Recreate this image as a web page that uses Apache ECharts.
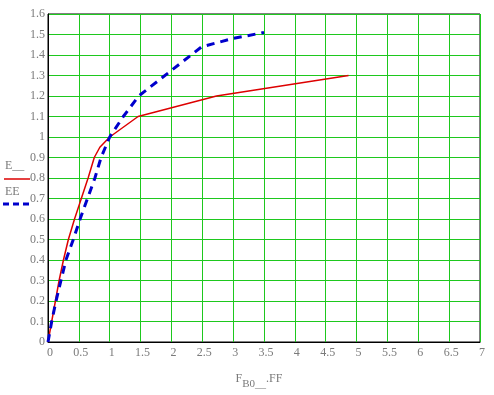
<!DOCTYPE html>
<html><head><meta charset="utf-8">
<script src="https://cdn.jsdelivr.net/npm/echarts@6/dist/echarts.min.js"></script>
<style>html,body{margin:0;padding:0;background:#fff}#c{width:494px;height:395px}</style>
</head><body><div id="c"></div>
<script>
const xTicks = [0,0.5,1,1.5,2,2.5,3,3.5,4,4.5,5,5.5,6,6.5,7];
const yTicks = [0,0.1,0.2,0.3,0.4,0.5,0.6,0.7,0.8,0.9,1,1.1,1.2,1.3,1.4,1.5,1.6];
const seriesNames = ['E__','EE'];
const redX = [0,0.06,0.12,0.18,0.25,0.33,0.43,0.54,0.65,0.75,0.84,1.0,1.46,2.73,4.87];
const redY = [0,0.1,0.2,0.3,0.4,0.5,0.6,0.7,0.8,0.9,0.95,1.0,1.1,1.2,1.3];
const blueX = [0,0.06,0.13,0.21,0.29,0.41,0.52,0.64,0.76,0.86,1.0,1.22,1.47,1.98,2.49,2.99,3.5];
const blueY = [0,0.1,0.2,0.3,0.4,0.5,0.6,0.7,0.8,0.9,1.0,1.1,1.2,1.32,1.44,1.48,1.51];

const font = 'Liberation Serif';
const lblColor = '#7a7a7a';
const chart = echarts.init(document.getElementById('c'));
chart.setOption({
  animation:false,
  grid:{left:48,right:14,top:14,bottom:43,show:true,borderColor:'#000',borderWidth:1,containLabel:false},
  xAxis:{type:'value',min:xTicks[0],max:xTicks[xTicks.length-1],interval:0.5,
    axisLine:{show:true,onZero:false,lineStyle:{color:'#000'}},axisTick:{show:false},
    splitLine:{show:true,lineStyle:{color:'#1ec81e',width:1}},
    axisLabel:{color:lblColor,fontFamily:font,fontSize:12,margin:5,padding:[0,0,0,4]},
    name:'{a|F}{s|B0__}{a|.FF}',nameLocation:'middle',nameGap:31,
    nameTextStyle:{padding:[0,10,0,0],rich:{a:{fontFamily:font,fontSize:12,color:lblColor,verticalAlign:'top',lineHeight:14},
      s:{fontFamily:font,fontSize:11,color:lblColor,verticalAlign:'top',padding:[6,0,0,0],lineHeight:14}}}},
  yAxis:{type:'value',min:yTicks[0],max:yTicks[yTicks.length-1],interval:0.1,
    axisLine:{show:true,onZero:false,lineStyle:{color:'#000'}},axisTick:{show:false},
    splitLine:{show:true,lineStyle:{color:'#1ec81e',width:1}},
    axisLabel:{color:lblColor,fontFamily:font,fontSize:12,margin:3,padding:[4,0,0,0],
      formatter:v=>String(Math.round(v*10)/10)}},
  graphic:[
    {type:'text',left:5,top:160,style:{text:seriesNames[0],fill:lblColor,font:'12px '+font}},
    {type:'line',shape:{x1:4,y1:179,x2:30,y2:179},style:{stroke:'#dd0000',lineWidth:1.5}},
    {type:'text',left:5,top:186,style:{text:seriesNames[1],fill:lblColor,font:'12px '+font}},
    {type:'line',shape:{x1:3,y1:204,x2:30,y2:204},style:{stroke:'#0000cc',lineWidth:3,lineDash:[6,4]}}
  ],
  series:[
    {name:seriesNames[0],type:'line',data:redX.map((x,i)=>[x,redY[i]]),showSymbol:false,
      lineStyle:{color:'#dd0000',width:1.5},z:3},
    {name:seriesNames[1],type:'line',data:blueX.map((x,i)=>[x,blueY[i]]),showSymbol:false,
      lineStyle:{color:'#0000cc',width:3,type:[8,6]},z:4}
  ]
});
</script></body></html>
